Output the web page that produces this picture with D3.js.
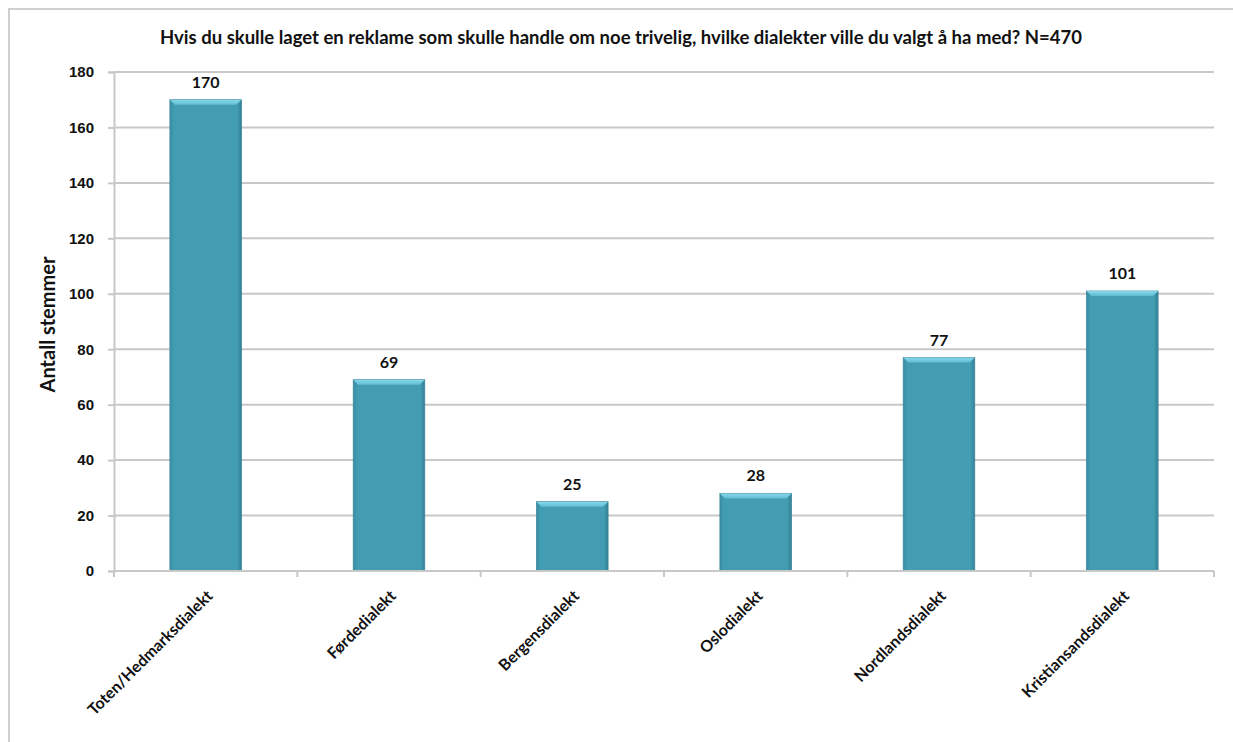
<!DOCTYPE html>
<html>
<head>
<meta charset="utf-8">
<script src="https://cdn.jsdelivr.net/npm/d3@7"></script>
<style>
  body { margin: 0; background: #fff; }
  svg { display: block; font-family: Lato, "Open Sans", sans-serif; }
</style>
</head>
<body>
<svg id="chart" width="1233" height="742"></svg>
<script>
let categories = ['Toten/Hedmarksdialekt', 'Førdedialekt', 'Bergensdialekt', 'Oslodialekt', 'Nordlandsdialekt', 'Kristiansandsdialekt'];
let votes = [170, 69, 25, 28, 77, 101];
let yTicks = [0, 20, 40, 60, 80, 100, 120, 140, 160, 180];
let title = 'Hvis du skulle laget en reklame som skulle handle om noe trivelig, hvilke dialekter ville du valgt å ha med? N=470';
let yTitle = 'Antall stemmer';

let svg = d3.select('#chart');
let plotLeft = 114, plotRight = 1214, plotTop = 72, plotBottom = 571;

// frame
svg.append('rect')
  .attr('x', 9).attr('y', 9)
  .attr('width', 1260).attr('height', 800)
  .attr('fill', 'none')
  .attr('stroke', '#cfcfcf')
  .attr('stroke-width', 2);

let xScale = d3.scaleBand().domain(categories).range([plotLeft, plotRight]).paddingInner(0.61).paddingOuter(0.305);
let yScale = d3.scaleLinear().domain([0, 180]).range([plotBottom, plotTop]);

let defs = svg.append('defs');
let grad = defs.append('linearGradient').attr('id', 'barGrad').attr('x1', 0).attr('x2', 1).attr('y1', 0).attr('y2', 0);
grad.append('stop').attr('offset', '0%').attr('stop-color', '#3a8ea4');
grad.append('stop').attr('offset', '6%').attr('stop-color', '#429db3');
grad.append('stop').attr('offset', '94%').attr('stop-color', '#429db3');
grad.append('stop').attr('offset', '100%').attr('stop-color', '#357f93');
let bevel = defs.append('linearGradient').attr('id', 'bevelGrad').attr('x1', 0).attr('x2', 0).attr('y1', 0).attr('y2', 1);
bevel.append('stop').attr('offset', '0%').attr('stop-color', '#8ad8ea');
bevel.append('stop').attr('offset', '100%').attr('stop-color', '#5fbdd2');

// gridlines
svg.append('g')
  .selectAll('line')
  .data(yTicks.slice(1))
  .join('line')
  .attr('x1', plotLeft).attr('x2', plotRight)
  .attr('y1', d => yScale(d)).attr('y2', d => yScale(d))
  .attr('stroke', '#c8c8c8')
  .attr('stroke-width', 2);

// y axis
let yAxis = svg.append('g')
  .attr('transform', `translate(${plotLeft},0)`)
  .call(d3.axisLeft(yScale).tickValues(yTicks).tickSize(6).tickPadding(14));
yAxis.select('.domain').attr('stroke', '#c8c8c8').attr('stroke-width', 2);
yAxis.selectAll('.tick line').attr('stroke', '#c8c8c8').attr('stroke-width', 2);
yAxis.selectAll('.tick text')
  .attr('font-size', 15).attr('font-weight', 'bold').attr('fill', '#111');

// bars
let bars = svg.append('g').selectAll('g').data(votes).join('g');
bars.append('rect')
  .attr('x', (d, i) => xScale(categories[i]))
  .attr('y', d => yScale(d))
  .attr('width', xScale.bandwidth())
  .attr('height', d => plotBottom - yScale(d))
  .attr('fill', 'url(#barGrad)')
  .attr('stroke', '#3a8699')
  .attr('stroke-width', 0.8);
bars.append('polygon')
  .attr('points', (d, i) => {
    let x0 = xScale(categories[i]), x1 = x0 + xScale.bandwidth(), y0 = yScale(d);
    return [[x0, y0], [x1, y0], [x1 - 5, y0 + 5], [x0 + 5, y0 + 5]].join(' ');
  })
  .attr('fill', 'url(#bevelGrad)');

// x axis
let xAxisG = svg.append('g').attr('transform', `translate(0,${plotBottom})`);
xAxisG.append('line')
  .attr('x1', plotLeft).attr('x2', plotRight)
  .attr('stroke', '#c8c8c8').attr('stroke-width', 2);
let bounds = categories.map(c => xScale(c) - xScale.step() * xScale.paddingInner() / 2).concat([plotRight]);
xAxisG.selectAll('.xtick')
  .data(bounds)
  .join('line')
  .attr('x1', d => d).attr('x2', d => d)
  .attr('y1', 0).attr('y2', 6)
  .attr('stroke', '#c8c8c8').attr('stroke-width', 2);
xAxisG.selectAll('text')
  .data(categories)
  .join('text')
  .attr('transform', d => `translate(${xScale(d) + xScale.bandwidth() / 2 + 8},${26}) rotate(-45)`)
  .attr('text-anchor', 'end')
  .attr('font-size', 16)
  .attr('font-weight', 'bold')
  .attr('fill', '#111')
  .text(d => d);

// value labels
svg.append('g').selectAll('text')
  .data(votes)
  .join('text')
  .attr('x', (d, i) => xScale(categories[i]) + xScale.bandwidth() / 2)
  .attr('y', d => yScale(d) - 12)
  .attr('text-anchor', 'middle')
  .attr('font-size', 16)
  .attr('font-weight', 'bold')
  .attr('fill', '#111')
  .text(d => d);

// titles
svg.append('text')
  .attr('x', 621).attr('y', 44)
  .attr('text-anchor', 'middle')
  .attr('font-size', 18.5)
  .attr('font-weight', 'bold')
  .attr('fill', '#111')
  .text(title);

svg.append('text')
  .attr('transform', `translate(55,${(plotTop + plotBottom) / 2 + 3}) rotate(-90)`)
  .attr('text-anchor', 'middle')
  .attr('font-size', 20)
  .attr('font-weight', 'bold')
  .attr('fill', '#111')
  .text(yTitle);
</script>
</body>
</html>
